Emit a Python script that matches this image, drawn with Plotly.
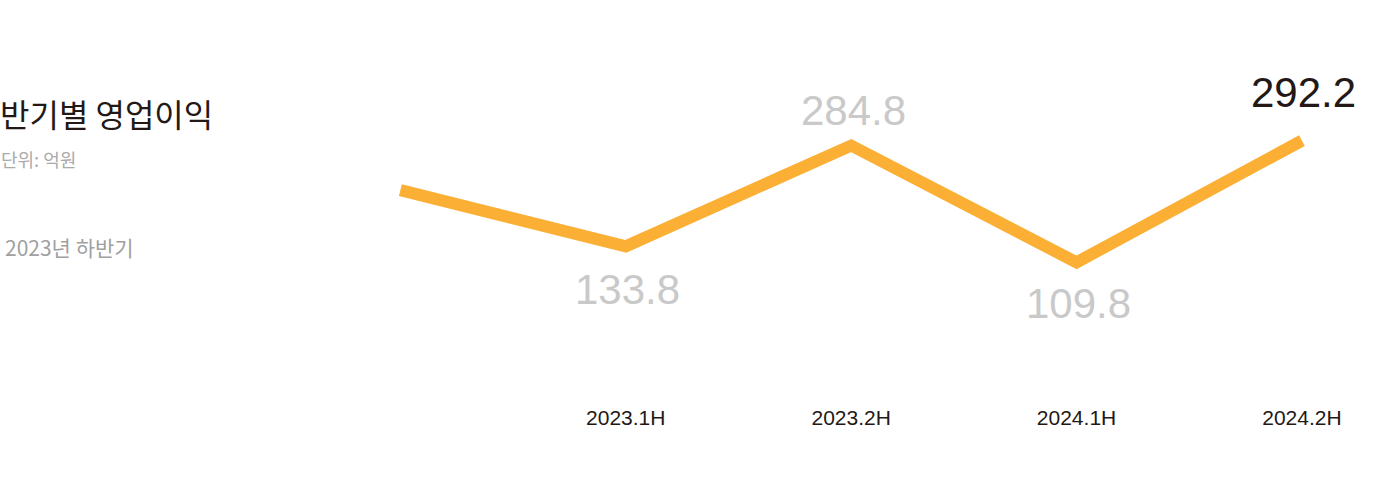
import plotly.graph_objects as go

# ---- data ----
periods = ["2022.2H", "2023.1H", "2023.2H", "2024.1H", "2024.2H"]
profit = [218.0, 133.8, 284.8, 109.8, 292.2]
labeled_periods = ["2023.1H", "2023.2H", "2024.1H", "2024.2H"]
labeled_values = [133.8, 284.8, 109.8, 292.2]
value_text = ["133.8", "284.8", "109.8", "292.2"]

title_text = "반기별 영업이익"
unit_text = "단위: 억원"
legend_text = "2023년 하반기"

# ---- layout geometry (screen px) ----
W, H = 1383, 481
L, R, T, B = 174.5, 36, 40, 86
PW, PH = W - L - R, H - T - B

def px_x(px):
    return (px - L) / PW

def px_y(py):
    return (T + PH - py) / PH

LINE = "#FBAF34"
DARK = "#231815"
GREY_LABEL = "#C9C9C9"

fig = go.Figure()
fig.add_trace(go.Scatter(
    x=periods, y=profit, mode="lines",
    line=dict(color=LINE, width=12),
    hoverinfo="skip", showlegend=False,
))

# value labels
shifts = [-43, 35, -41, 48]
colors = [GREY_LABEL, GREY_LABEL, GREY_LABEL, DARK]
for p, v, t, s, c in zip(labeled_periods, labeled_values, value_text, shifts, colors):
    fig.add_annotation(
        x=p, y=v, text=t, showarrow=False, yshift=s, xshift=2,
        font=dict(family="Liberation Sans, Arial", size=42, color=c),
        xanchor="center", yanchor="middle",
    )

# left texts
fig.add_annotation(xref="paper", yref="paper", x=px_x(-3), y=px_y(113),
                   text=title_text, showarrow=False, xanchor="left", yanchor="middle",
                   font=dict(family="Noto Sans CJK KR", size=32, color=DARK))
fig.add_annotation(xref="paper", yref="paper", x=px_x(-2), y=px_y(159),
                   text=unit_text, showarrow=False, xanchor="left", yanchor="middle",
                   font=dict(family="Noto Sans CJK KR", size=18, color="#AAAAAA"))
fig.add_annotation(xref="paper", yref="paper", x=px_x(2), y=px_y(247),
                   text=legend_text, showarrow=False, xanchor="left", yanchor="middle",
                   font=dict(family="Noto Sans CJK KR", size=21, color="#A0A0A0"))

fig.update_layout(
    width=W, height=H,
    margin=dict(l=L, r=R, t=T, b=B, pad=0),
    paper_bgcolor="white", plot_bgcolor="white",
    xaxis=dict(
        type="category", categoryorder="array", categoryarray=periods,
        range=[-1, 4.2], showgrid=False, zeroline=False, showline=False,
        ticks="", tickmode="array", tickvals=labeled_periods, ticktext=labeled_periods,
        tickfont=dict(family="Liberation Sans, Arial", size=21, color=DARK),
        ticklabelstandoff=8, fixedrange=True,
    ),
    yaxis=dict(
        range=[-88.9, 442.9], visible=False, showgrid=False, zeroline=False,
        fixedrange=True,
    ),
)

fig.write_html("out.html",
               config={"displayModeBar": False},
               post_script="document.body.style.margin='0';document.body.style.overflow='hidden';")
